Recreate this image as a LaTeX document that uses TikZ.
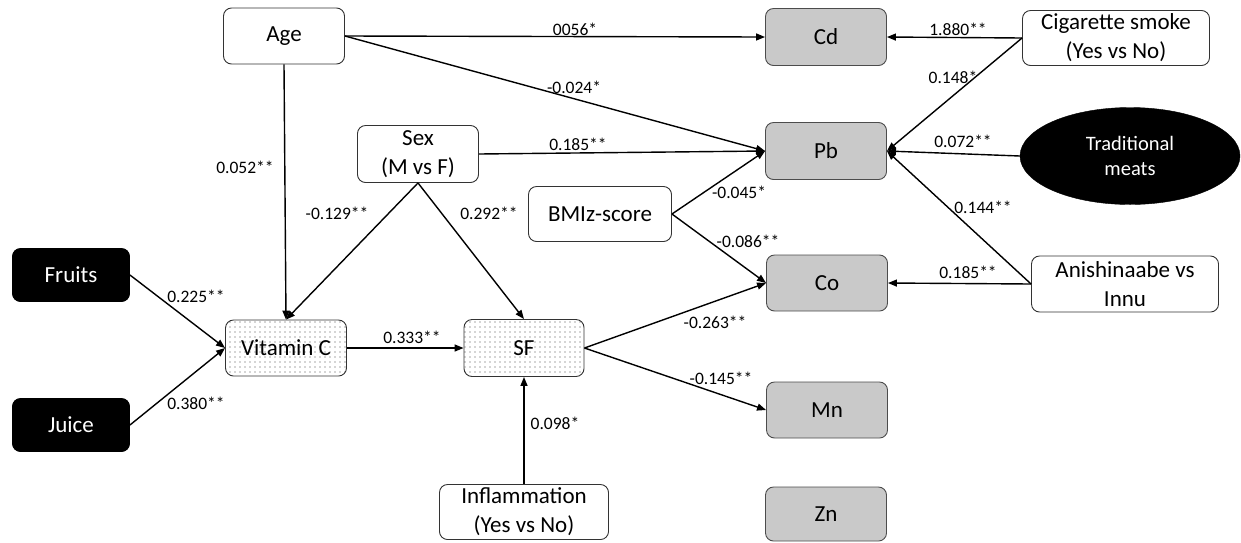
\documentclass[tikz,border=0pt]{standalone}
\usepackage{fontspec}
\setmainfont{Carlito}
\usetikzlibrary{arrows.meta,shapes.geometric,patterns.meta}

\begin{document}
\begin{tikzpicture}[x=1pt,y=-1pt,
  box/.style={draw=black!80, line width=0.9pt, rounded corners=8pt, fill=white,
              align=center, inner sep=0pt, font=\fontsize{23}{29}\selectfont},
  metal/.style={box, draw=black!70, fill=black!21, minimum width=121pt, minimum height=56pt},
  darkbox/.style={box, draw=black, fill=black, text=white, minimum width=117pt, minimum height=53pt},
  dotbox/.style={box, preaction={fill=white}, pattern={Dots[distance=5pt,radius=0.6pt]},
                 pattern color=black!70, minimum width=121pt, minimum height=56pt},
  arr/.style={line width=1.4pt, -{Triangle[length=9pt,width=7pt]}},
  lbl/.style={inner sep=0pt, font=\fontsize{17.5}{20}\selectfont}]

\useasboundingbox (0,0) rectangle (1241,542);

% predictors
\node[box, minimum width=121pt, minimum height=56pt] (age) at (284,36) {Age};
\node[box, minimum width=121pt, minimum height=57pt] (sex) at (418,154) {Sex\\(M vs F)};
\node[box, minimum width=143pt, minimum height=55pt] (bmi) at (600,214) {BMIz-score};
\node[box, minimum width=187pt, minimum height=55pt] (cig) at (1116,38) {Cigarette smoke\\(Yes vs No)};
\node[box, minimum width=187pt, minimum height=56pt] (anish) at (1125,284) {Anishinaabe vs\\Innu};
\node[box, minimum width=169pt, minimum height=55pt] (infl) at (524,512) {Inflammation\\(Yes vs No)};
\node[ellipse, draw=black, fill=black, text=white, minimum width=220pt, minimum height=97pt,
      inner sep=0pt, align=center, font=\fontsize{20.5}{25}\selectfont] (trad) at (1130,156) {Traditional\\meats};
\node[darkbox] (fruits) at (71,275) {Fruits};
\node[darkbox] (juice) at (71,425) {Juice};

% mediators
\node[dotbox] (vitc) at (286,348) {Vitamin C};
\node[dotbox, minimum width=120pt, minimum height=57pt] (sf) at (524,348) {SF};

% metals
\node[metal, minimum height=57pt] (cd) at (826,37) {Cd};
\node[metal, minimum height=57pt] (pb) at (826,151) {Pb};
\node[metal] (co) at (827,283) {Co};
\node[metal] (mn) at (827,410) {Mn};
\node[metal, minimum height=54pt] (zn) at (826,514) {Zn};

% paths
\draw[arr] (age.east) -- (cd.west);
\draw[arr] (age.east) -- (pb.west);
\draw[arr] (age.south) -- (vitc.north);
\draw[arr] (sex.east) -- (pb.west);
\draw[arr] (sex.south) -- (vitc.north);
\draw[arr] (sex.south) -- (sf.north);
\draw[arr] (bmi.east) -- (pb.west);
\draw[arr] (bmi.east) -- (co.west);
\draw[arr] (cig.west) -- (cd.east);
\draw[arr] (cig.west) -- (pb.east);
\draw[arr] (trad.west) -- (pb.east);
\draw[arr] (anish.west) -- (pb.east);
\draw[arr] (anish.west) -- (co.east);
\draw[arr] (fruits.east) -- (vitc.west);
\draw[arr] (juice.east) -- (vitc.west);
\draw[arr] (vitc.east) -- (sf.west);
\draw[arr] (infl.north) -- (sf.south);
\draw[arr] (sf.east) -- (co.west);
\draw[arr] (sf.east) -- (mn.west);

% path coefficients
\node[lbl] (l1) at (575,29) {0056*};
\node[lbl] (l2) at (574,87) {-0.024*};
\node[lbl] (l3) at (578,144) {0.185**};
\node[lbl] (l4) at (245,167) {0.052**};
\node[lbl] (l5) at (337,213) {-0.129**};
\node[lbl] (l6) at (489,213) {0.292**};
\node[lbl] (l7) at (958,29) {1.880**};
\node[lbl] (l8) at (953,77) {0.148*};
\node[lbl] (l9) at (963,141) {0.072**};
\node[lbl] (l10) at (739,192) {-0.045*};
\node[lbl] (l11) at (748,241) {-0.086**};
\node[lbl] (l12) at (983,207) {0.144**};
\node[lbl] (l13) at (968,272) {0.185**};
\node[lbl] (l14) at (715,322) {-0.263**};
\node[lbl] (l15) at (721,378) {-0.145**};
\node[lbl] (l16) at (196,296) {0.225**};
\node[lbl] (l17) at (196,403) {0.380**};
\node[lbl] (l18) at (412,337) {0.333**};
\node[lbl] (l19) at (555,423) {0.098*};
\end{tikzpicture}
\end{document}
